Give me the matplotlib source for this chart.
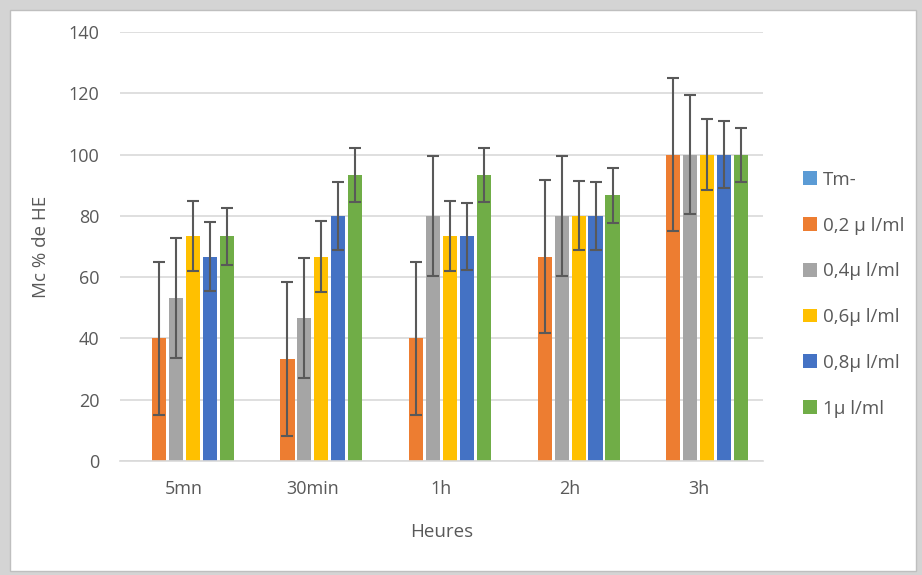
import matplotlib
matplotlib.use('Agg')
import matplotlib.pyplot as plt
from matplotlib.patches import Rectangle
import numpy as np

# data
categories = ["5mn", "30min", "1h", "2h", "3h"]
series = ["Tm-", "0,2 µ l/ml", "0,4µ l/ml", "0,6µ l/ml", "0,8µ l/ml", "1µ l/ml"]
colors = ["#5B9BD5", "#ED7D31", "#A5A5A5", "#FFC000", "#4472C4", "#70AD47"]

tm = [0, 0, 0, 0, 0]
c02 = [40, 33.3, 40, 66.7, 100]
c04 = [53.3, 46.7, 80, 80, 100]
c06 = [73.3, 66.7, 73.3, 80, 100]
c08 = [66.7, 80, 73.3, 80, 100]
c1 = [73.3, 93.3, 93.3, 86.7, 100]

err02 = [25, 25, 25, 25, 25]
err04 = [19.6, 19.6, 19.6, 19.6, 19.5]
err06 = [11.4, 11.5, 11.4, 11.3, 11.5]
err08 = [11.2, 11, 11, 11, 11]
err1 = [9.2, 8.8, 8.8, 9, 8.8]

values = [tm, c02, c04, c06, c08, c1]
errors = [None, err02, err04, err06, err08, err1]

plt.rcParams['font.family'] = ['Open Sans', 'DejaVu Sans']
txt = "#595959"
grid = "#D9D9D9"

fig = plt.figure(figsize=(9.22, 5.75), dpi=100)
fig.patch.set_facecolor("#D4D4D4")
# white chart area with a frame like the screenshot
fig.patches.append(Rectangle((10 / 922, 1 - 571 / 575), 906 / 922, 561 / 575,
                             transform=fig.transFigure, facecolor="white",
                             edgecolor="#BFBFBF", lw=1, zorder=-5))

ax = fig.add_axes([120 / 922, 1 - 461 / 575, 643 / 922, 429 / 575])
ax.set_facecolor("none")

x = np.arange(len(categories))
pitch = 0.132
width = 0.11
for i, (name, vals, err, col) in enumerate(zip(series, values, errors, colors)):
    pos = x + (i - 2.5) * pitch
    ax.bar(pos, vals, width=width, color=col, label=name, zorder=2)
    if err is not None:
        ax.errorbar(pos, vals, yerr=err, fmt="none", ecolor="#595959",
                    elinewidth=1.5, capsize=4, capthick=1.5, zorder=3)

ax.set_ylim(0, 140)
ax.set_xlim(-0.5, 4.5)
ax.set_yticks(range(0, 141, 20))
ax.set_xticks(x)
ax.set_xticklabels(categories)
ax.yaxis.grid(True, color=grid, lw=1.2, zorder=0)
ax.set_axisbelow(True)
for s in ["top", "right", "left"]:
    ax.spines[s].set_visible(False)
ax.spines["bottom"].set_color(grid)
ax.spines["bottom"].set_linewidth(1.2)
ax.tick_params(axis="both", length=0, labelsize=13, colors=txt)
ax.tick_params(axis="x", pad=14)
ax.tick_params(axis="y", pad=15)

ax.set_ylabel("Mc % de HE", fontsize=13.5, color=txt, labelpad=13)
ax.set_xlabel("Heures", fontsize=13.5, color=txt, labelpad=18)

handles, labels = ax.get_legend_handles_labels()
leg = fig.legend(handles, labels, loc="upper left", bbox_to_anchor=(0.871, 0.703),
                 frameon=False, fontsize=13.5, labelspacing=1.48, handlelength=0.75,
                 handleheight=0.75, handletextpad=0.3, borderpad=0, borderaxespad=0)
for t in leg.get_texts():
    t.set_color(txt)

fig.savefig("out.png", dpi=100)
